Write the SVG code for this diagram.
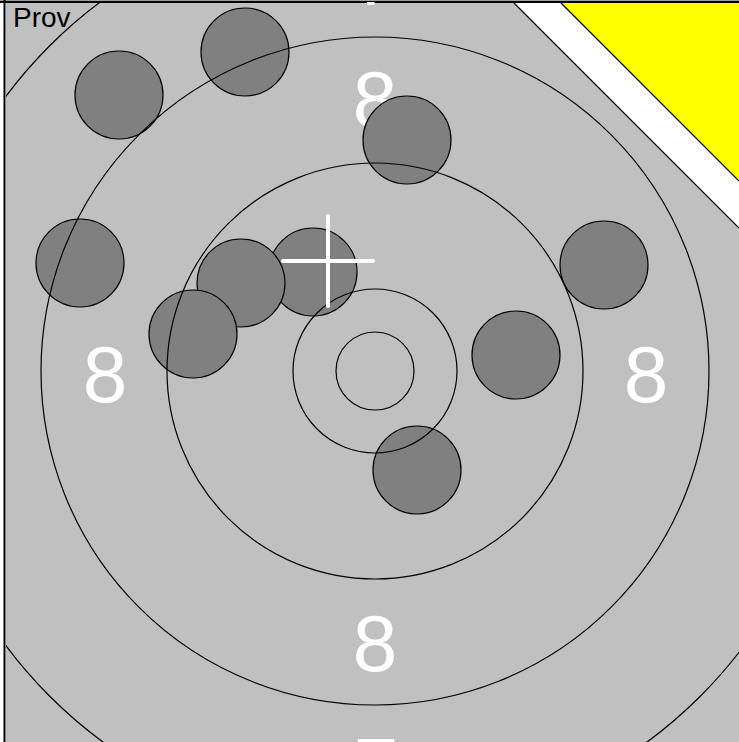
<svg xmlns="http://www.w3.org/2000/svg" width="739" height="742" viewBox="0 0 739 742">
<style>
.ring{fill:none;stroke:#000;stroke-width:1.2}
.shot{fill:#808080;stroke:#000;stroke-width:1.2}
.num{font-family:"Liberation Sans",Arial,sans-serif;font-size:80px;fill:#fff;text-anchor:middle}
.lbl{font-family:"Liberation Sans",Arial,sans-serif;font-size:28px;fill:#000}
.cross{stroke:#fff;stroke-width:4;stroke-linecap:round}
</style>
<defs>
<clipPath id="area"><rect x="6" y="2" width="733" height="740"/></clipPath>
</defs>
<rect x="0" y="0" width="739" height="742" fill="#fff"/>
<line x1="0" y1="0.5" x2="739" y2="0.5" stroke="#a0a0a0" stroke-width="1"/>
<line x1="0" y1="2" x2="739" y2="2" stroke="#000" stroke-width="2"/>
<line x1="4.5" y1="0" x2="4.5" y2="742" stroke="#000" stroke-width="2"/>
<g clip-path="url(#area)">
<rect id="background" x="6" y="3" width="733" height="739" fill="#c0c0c0"/>
<g id="numbers">
<text class="num" x="375" y="4.5">7</text>
<text class="num" x="375" y="127">8</text>
<text class="num" x="105" y="402">8</text>
<text class="num" x="646" y="402">8</text>
<text class="num" x="375" y="671">8</text>
<text class="num" x="376" y="794">7</text>
</g>
<g id="shots">
<circle id="shot1" class="shot" cx="119" cy="95" r="44"/>
<circle id="shot2" class="shot" cx="245" cy="52" r="44"/>
<circle id="shot3" class="shot" cx="407" cy="140" r="44"/>
<circle id="shot4" class="shot" cx="80" cy="263" r="44"/>
<circle id="shot5" class="shot" cx="604" cy="265" r="44"/>
<circle id="shot6" class="shot" cx="313" cy="272" r="44"/>
<circle id="shot7" class="shot" cx="241" cy="283" r="44"/>
<circle id="shot8" class="shot" cx="193" cy="334" r="44"/>
<circle id="shot9" class="shot" cx="516" cy="355" r="44"/>
<circle id="shot10" class="shot" cx="417" cy="470" r="44"/>
</g>
<g id="rings">
<circle class="ring" cx="375" cy="371" r="39"/>
<circle class="ring" cx="375" cy="371" r="82"/>
<circle class="ring" cx="375" cy="371" r="208"/>
<circle class="ring" cx="375" cy="371" r="334"/>
<circle class="ring" cx="375" cy="371" r="460"/>
</g>
<g id="crosshair">
<line class="cross" x1="283" y1="261" x2="373" y2="261"/>
<line class="cross" x1="328" y1="216" x2="328" y2="306"/>
</g>
<g id="corner">
<polygon points="514,3 561,3 739,181 739,228" fill="#fff"/>
<polygon points="561,3 739,3 739,181" fill="#ffff00"/>
<line x1="514" y1="3" x2="739" y2="228" stroke="#000" stroke-width="1.2"/>
<line x1="561" y1="3" x2="739" y2="181" stroke="#000" stroke-width="1.2"/>
</g>
<text id="prov" class="lbl" x="13" y="27">Prov</text>
</g>
</svg>
